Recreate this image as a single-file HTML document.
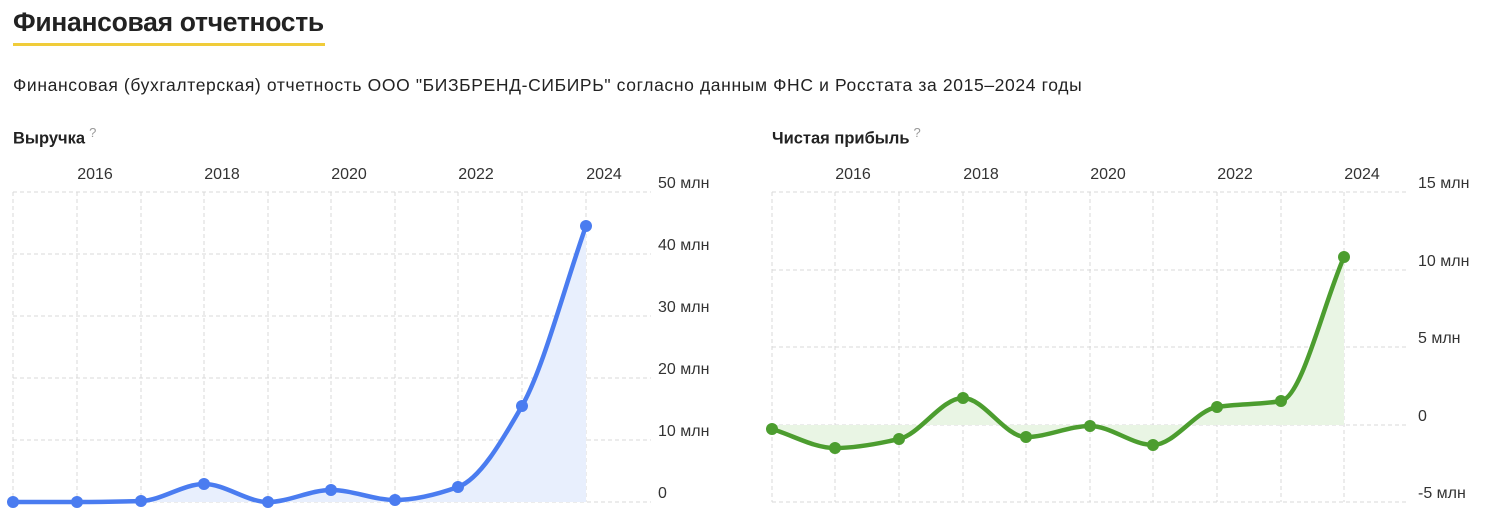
<!DOCTYPE html>
<html><head><meta charset="utf-8"><style>
body{margin:0;background:#fff;width:1495px;height:521px;overflow:hidden;font-family:"Liberation Sans",sans-serif;color:#222}
.t{position:absolute;left:13px;top:7px;font-size:26.5px;font-weight:bold;letter-spacing:-0.3px}
.u{position:absolute;left:13px;top:43px;width:312px;height:3px;background:#f0cc3a}
.s{position:absolute;left:13px;top:75px;font-size:17.5px;letter-spacing:0.63px}
.h{position:absolute;top:125px;font-size:16.5px;font-weight:bold}
.h sup{color:#999;font-weight:normal;font-size:13px;margin-left:4px}
svg{position:absolute;left:0;top:0}
svg text{font-family:"Liberation Sans",sans-serif;font-size:16px;fill:#333}
</style></head><body>
<div class="t">Финансовая отчетность</div><div class="u"></div>
<div class="s">Финансовая (бухгалтерская) отчетность ООО "БИЗБРЕНД-СИБИРЬ" согласно данным ФНС и Росстата за 2015–2024 годы</div>
<div class="h" style="left:13px">Выручка<sup>?</sup></div>
<div class="h" style="left:772px">Чистая прибыль<sup>?</sup></div>
<svg id="s" width="1495" height="521"></svg>
<script>
var s=document.getElementById('s'),h='';
function mono(xs,ys){var n=xs.length,dx=[],m=[],t=[];
 for(var i=0;i<n-1;i++){dx[i]=xs[i+1]-xs[i];m[i]=(ys[i+1]-ys[i])/dx[i];}
 t[0]=m[0];t[n-1]=m[n-2];
 for(i=1;i<n-1;i++){if(m[i-1]*m[i]<=0)t[i]=0;else{var w1=2*dx[i]+dx[i-1],w2=dx[i]+2*dx[i-1];t[i]=(w1+w2)/(w1/m[i-1]+w2/m[i]);}}
 var d='M'+xs[0]+','+ys[0];
 for(i=0;i<n-1;i++){var h3=dx[i]/3;d+=' C'+(xs[i]+h3)+','+(ys[i]+t[i]*h3)+' '+(xs[i+1]-h3)+','+(ys[i+1]-t[i+1]*h3)+' '+xs[i+1]+','+ys[i+1];}
 return d;}
function chart(xs,ys,hl,xr,zero,col,fill,labels,lx){
 xs.forEach(function(x){h+='<line x1="'+x+'" y1="'+hl[0]+'" x2="'+x+'" y2="'+hl[hl.length-1]+'" stroke="#d8d8d8" stroke-dasharray="4,3"/>';});
 hl.forEach(function(y,i){h+='<line x1="'+xs[0]+'" y1="'+y+'" x2="'+xr+'" y2="'+y+'" stroke="#d8d8d8" stroke-dasharray="4,3"/>';
  h+='<text x="'+lx+'" y="'+(y-4)+'">'+labels[i]+'</text>';});
 var d=mono(xs,ys),n=xs.length-1;
 h+='<path d="'+d+' L'+xs[n]+','+zero+' L'+xs[0]+','+zero+'Z" fill="'+fill+'"/>';
 h+='<path d="'+d+'" fill="none" stroke="'+col+'" stroke-width="4.5" stroke-linejoin="round"/>';
 xs.forEach(function(x,i){h+='<circle cx="'+x+'" cy="'+ys[i]+'" r="6" fill="'+col+'"/>';});
 ['2016','2018','2020','2022','2024'].forEach(function(y,k){h+='<text x="'+(xs[2*k+1]+18)+'" y="179" text-anchor="middle">'+y+'</text>';});
}
chart([13,77,141,204,268,331,395,458,522,586],[502,502,501,484,502,490,500,487,406,226],[192,254,316,378,440,502],651,502,'#4a7cf0','#e8effd',['50 млн','40 млн','30 млн','20 млн','10 млн','0'],658);
chart([772,835,899,963,1026,1090,1153,1217,1281,1344],[429,448,439,398,437,426,445,407,401,257],[192,270,347,425,502],1408,425,'#4c9d2f','#e9f5e4',['15 млн','10 млн','5 млн','0','-5 млн'],1418);
s.innerHTML=h;
</script>
</body></html>
